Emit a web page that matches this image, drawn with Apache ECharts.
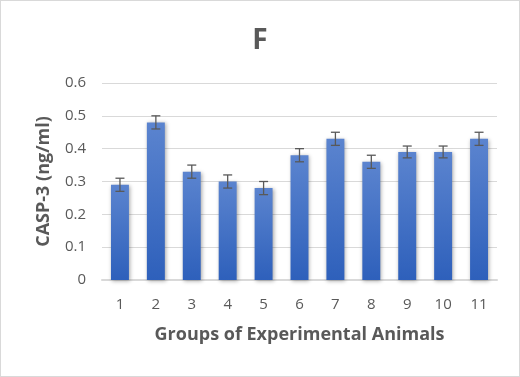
<!DOCTYPE html>
<html style="height: 100%">
<head>
<meta charset="utf-8">
<script src="https://cdn.jsdelivr.net/npm/echarts@6/dist/echarts.min.js"></script>
</head>
<body style="height: 100%; margin: 0">
<div id="chart" style="width: 518px; height: 375px; border: 1px solid #d9d9d9;"></div>
<script type="text/javascript">
var groups = ['1', '2', '3', '4', '5', '6', '7', '8', '9', '10', '11'];
var casp3 = [0.29, 0.48, 0.33, 0.30, 0.28, 0.38, 0.43, 0.36, 0.39, 0.39, 0.43];
var errors = [0.02, 0.02, 0.02, 0.02, 0.02, 0.02, 0.02, 0.02, 0.018, 0.018, 0.02];

var font = '"Open Sans", "Liberation Sans", sans-serif';
var myChart = echarts.init(document.getElementById('chart'));

var errData = casp3.map(function (v, i) {
    return [i, v - errors[i], v + errors[i]];
});

var option = {
    animation: false,
    title: {
        text: 'F',
        left: 'center',
        top: 21,
        textStyle: { fontFamily: font, fontSize: 28, fontWeight: 'bold', color: '#595959' }
    },
    grid: { left: 101, right: 22, top: 82, bottom: 96 },
    xAxis: {
        type: 'category',
        data: groups,
        name: 'Groups of Experimental Animals',
        nameLocation: 'middle',
        nameGap: 46,
        nameTextStyle: { fontFamily: font, fontSize: 18, fontWeight: 'bold', color: '#595959' },
        axisLine: { lineStyle: { color: '#d9d9d9', width: 2 } },
        axisTick: { show: false },
        axisLabel: { fontFamily: font, fontSize: 15, color: '#595959', margin: 17 }
    },
    yAxis: {
        type: 'value',
        min: 0,
        max: 0.6,
        interval: 0.1,
        name: 'CASP-3 (ng/ml)',
        nameLocation: 'middle',
        nameGap: 49,
        nameTextStyle: { fontFamily: font, fontSize: 18, fontWeight: 'bold', color: '#595959' },
        axisLine: { show: false },
        axisTick: { show: false },
        splitLine: { lineStyle: { color: '#d9d9d9' } },
        axisLabel: { fontFamily: font, fontSize: 15, color: '#595959', margin: 16 }
    },
    series: [
        {
            type: 'bar',
            data: casp3,
            barWidth: '50%',
            itemStyle: {
                color: new echarts.graphic.LinearGradient(0, 0, 0, 1, [
                    { offset: 0, color: '#5b84cf' },
                    { offset: 1, color: '#2e60bb' }
                ]),
                shadowColor: 'rgba(0,0,0,0.35)',
                shadowBlur: 4,
                shadowOffsetX: 1,
                shadowOffsetY: 1
            }
        },
        {
            type: 'custom',
            data: errData,
            z: 10,
            renderItem: function (params, api) {
                var x = api.value(0);
                var lo = api.coord([x, api.value(1)]);
                var hi = api.coord([x, api.value(2)]);
                var half = 4.5;
                var st = { stroke: '#595959', lineWidth: 1.3 };
                return {
                    type: 'group',
                    children: [
                        { type: 'line', shape: { x1: lo[0], y1: lo[1], x2: hi[0], y2: hi[1] }, style: st },
                        { type: 'line', shape: { x1: lo[0] - half, y1: lo[1], x2: lo[0] + half, y2: lo[1] }, style: st },
                        { type: 'line', shape: { x1: hi[0] - half, y1: hi[1], x2: hi[0] + half, y2: hi[1] }, style: st }
                    ]
                };
            }
        }
    ]
};
myChart.setOption(option);
</script>
</body>
</html>
